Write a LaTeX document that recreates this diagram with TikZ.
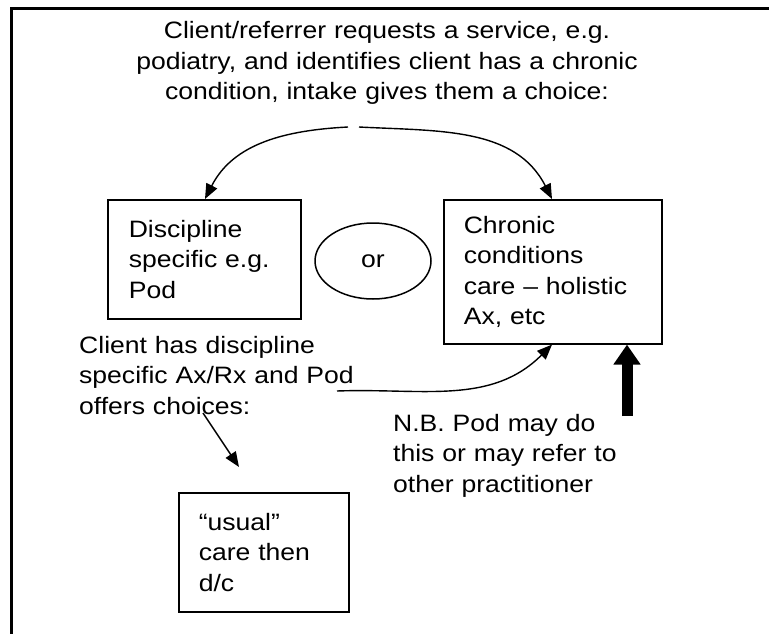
\documentclass[tikz,border=0pt]{standalone}
\usepackage{fontspec}
\newfontfamily\diafont{Liberation Sans}[FakeStretch=1.12]
\usetikzlibrary{arrows.meta,shapes.geometric}
\begin{document}
\begin{tikzpicture}[x=1pt,y=-1pt,
  txt/.style={font=\diafont\fontsize{23.7}{30.5}\selectfont},
  freetext/.style={txt,inner sep=0pt,align=left},
  boxnode/.style={txt,draw,line width=1.6pt,rectangle,anchor=north west,align=left,inner ysep=0pt},
  conn/.style={line width=1.4pt,-{Triangle[length=15pt,width=12pt]}},
  thickarrow/.style={line width=11pt,-{Triangle[length=20pt,width=26pt]}}
]
\useasboundingbox (0,0) rectangle (769,634);
% frame (left and top edges)
\draw[line width=2.2pt] (11.5,634) -- (11.5,8.5) -- (769,8.5);

% top text
\node[freetext,align=center,text width=620pt,anchor=base] (intake) at (387,39)
  {Client/referrer requests a service, e.g.\\
   podiatry, and identifies client has a chronic\\
   condition, intake gives them a choice:};

% boxes
\node[boxnode,minimum width=193pt,minimum height=119pt,text width=151pt,inner xsep=21pt] (disc) at (107,199)
  {Discipline\\specific e.g.\\Pod};
\node[boxnode,minimum width=218pt,minimum height=144pt,text width=178pt,inner xsep=20pt] (chronic) at (443,199)
  {Chronic\\conditions\\care – holistic\\Ax, etc};
\node[boxnode,minimum width=170pt,minimum height=119pt,text width=130pt,inner xsep=20pt] (usual) at (178,492)
  {“usual”\\care then\\d/c};

% or ellipse
\node[txt,draw,ellipse,line width=1.5pt,minimum width=116pt,minimum height=76pt,inner sep=0pt] (or) at (373,261) {or};

% free texts
\node[freetext,anchor=base west,text width=300pt] (podtext) at (79,353)
  {Client has discipline\\specific Ax/Rx and Pod\\offers choices:};
\node[freetext,anchor=base west,text width=300pt] (nb) at (393,431)
  {N.B. Pod may do\\this or may refer to\\other practitioner};

% coordinates for free connector ends
\coordinate (splitL) at (348,127);
\coordinate (splitR) at (359,127);
\coordinate (podA) at (337,391);
\coordinate (choiceA) at (203,413);
\coordinate (choiceB) at (239,467);
\coordinate (nbA) at (627,416);

% connectors
\draw[conn] (splitL) to[out=183,in=63] (disc.north west -| 205,0);
\draw[conn] (splitR) to[out=-3,in=117] (chronic.north west -| 552,0);
\draw[conn] (podA) to[out=2,in=225] (chronic.south west -| 552,0);
\draw[conn] (choiceA) -- (choiceB);
\draw[thickarrow] (nbA) -- (chronic.south west -| 627,0);
\end{tikzpicture}
\end{document}
